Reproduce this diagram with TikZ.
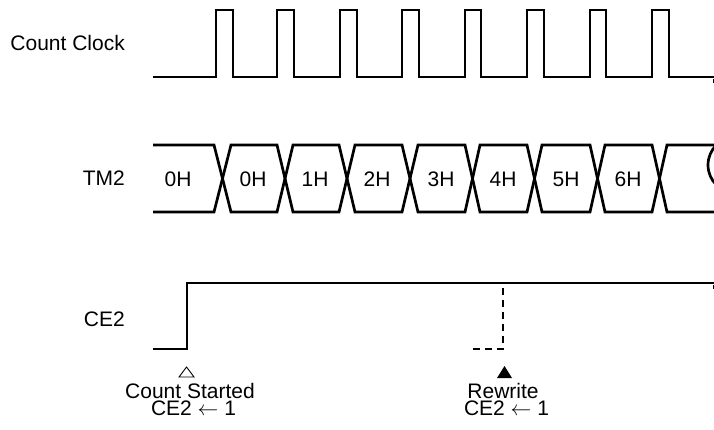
\documentclass[tikz,border=0pt]{standalone}
\usepackage{fontspec}
\setmainfont{Liberation Sans}
\begin{document}
\begin{tikzpicture}[x=1pt,y=-1pt,
  sig/.style={line width=2.7pt, line join=miter},
  lbl/.style={font=\fontsize{21}{24}\selectfont, inner sep=0pt, anchor=base}]
\useasboundingbox (0,0) rectangle (714,430);
\begin{scope}
\clip (0,0) rectangle (714,430);
% Count Clock
\draw[sig] (153,77) -| (216,10) -| (233,77) -| (277,10) -| (294,77)
  -| (340,10) -| (357,77) -| (402,10) -| (419,77) -| (465,10) -| (481,77)
  -| (527,10) -| (544,77) -| (590,10) -| (606,77) -| (652,10) -| (669,77) -- (714,77);
\draw[line width=1pt] (713,79) -- (713,83);
% TM2 bus
\draw[sig] (153,145)--(214,145)--(231,212)--(277,212)--(293,145)--(339,145)--(355,212)
  --(402,212)--(418,145)--(465,145)--(480,212)--(527,212)--(542,145)--(590,145)
  --(605,212)--(652,212)--(667,145)--(714,145);
\draw[sig] (153,212)--(214,212)--(231,145)--(277,145)--(293,212)--(339,212)--(355,145)
  --(402,145)--(418,212)--(465,212)--(480,145)--(527,145)--(542,212)--(590,212)
  --(605,145)--(652,145)--(667,212)--(714,212);
\draw[sig] (736,165) circle (28);
% CE2
\draw[sig] (153,349) -| (187,283) -- (714,283);
\draw[line width=1pt] (713,285) -- (713,289);
\draw[line width=2.6pt, dash pattern=on 7pt off 5pt] (503,288) -- (503,349) -- (470,349);
\end{scope}
% markers
\draw[line width=0.9pt, line join=miter] (179,377) -- (194,377) -- (186.5,367) -- cycle;
\fill (497,378) -- (512,378) -- (504.5,366) -- cycle;
% labels
\node[lbl, anchor=base east] (cc) at (125,51) {Count Clock};
\node[lbl, anchor=base east] (tm) at (125,186) {TM2};
\node[lbl, anchor=base east] (ce) at (125,326) {CE2};
\foreach \x/\t [count=\i] in {178/0H,253/0H,315/1H,377/2H,441/3H,503/4H,566/5H,628/6H}
  \node[lbl] (v\i) at (\x,187) {\t};
\node[lbl] (cs) at (190,398) {Count Started};
\node[lbl] (cs2) at (193.5,415.5) {CE2 $\leftarrow$ 1};
\node[lbl] (rw) at (503,398) {Rewrite};
\node[lbl] (rw2) at (506.5,415.5) {CE2 $\leftarrow$ 1};
\end{tikzpicture}
\end{document}
